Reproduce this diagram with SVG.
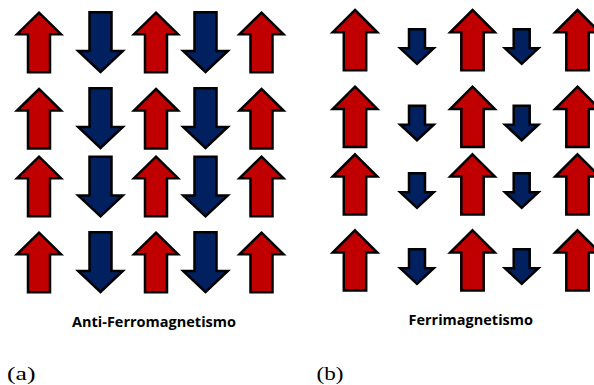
<svg xmlns="http://www.w3.org/2000/svg" xmlns:xlink="http://www.w3.org/1999/xlink" width="594" height="385" viewBox="0 0 594 385">
<style>
.up{fill:#C00000;stroke:#000;stroke-width:2.5;stroke-linejoin:miter}
.dn{fill:#002060;stroke:#000;stroke-width:2.5;stroke-linejoin:miter}
.lbl{font-family:"Open Sans","Liberation Sans",sans-serif;font-weight:bold;fill:#000}
.cap{font-family:"Liberation Serif","DejaVu Serif",serif;fill:#000}
</style>
<defs>
<path id="upL" class="up" d="M0,0 L22,21.5 L11,21.5 L11,59.5 L-11,59.5 L-11,21.5 L-22,21.5 Z"/>
<path id="dnL" class="dn" d="M-11,0 L11,0 L11,38.7 L22.3,38.7 L0,59.7 L-22.3,38.7 L-11,38.7 Z"/>
<path id="upR" class="up" d="M0,0 L22.3,22.3 L11.2,22.3 L11.2,60.3 L-11.2,60.3 L-11.2,22.3 L-22.3,22.3 Z"/>
<path id="dnR" class="dn" d="M-8,0 L8,0 L8,19 L16.7,19 L0,34.5 L-16.7,19 L-8,19 Z"/>
</defs>
<rect width="594" height="385" fill="#fff"/>
<g id="panel-a">
<g id="a-r1c1"><use xlink:href="#upL" x="39" y="12.7"/></g>
<g id="a-r1c2"><use xlink:href="#dnL" x="100.5" y="12.3"/></g>
<g id="a-r1c3"><use xlink:href="#upL" x="156" y="12.7"/></g>
<g id="a-r1c4"><use xlink:href="#dnL" x="205.5" y="12.3"/></g>
<g id="a-r1c5"><use xlink:href="#upL" x="261.5" y="12.7"/></g>
<g id="a-r2c1"><use xlink:href="#upL" x="39" y="89"/></g>
<g id="a-r2c2"><use xlink:href="#dnL" x="100.5" y="88.3"/></g>
<g id="a-r2c3"><use xlink:href="#upL" x="156" y="89"/></g>
<g id="a-r2c4"><use xlink:href="#dnL" x="205.5" y="88.3"/></g>
<g id="a-r2c5"><use xlink:href="#upL" x="261.5" y="89"/></g>
<g id="a-r3c1"><use xlink:href="#upL" x="39" y="156.7"/></g>
<g id="a-r3c2"><use xlink:href="#dnL" x="100.5" y="156.7"/></g>
<g id="a-r3c3"><use xlink:href="#upL" x="156" y="156.7"/></g>
<g id="a-r3c4"><use xlink:href="#dnL" x="205.5" y="156.7"/></g>
<g id="a-r3c5"><use xlink:href="#upL" x="261.5" y="156.7"/></g>
<g id="a-r4c1"><use xlink:href="#upL" x="39" y="232.7"/></g>
<g id="a-r4c2"><use xlink:href="#dnL" x="100.5" y="232.3"/></g>
<g id="a-r4c3"><use xlink:href="#upL" x="156" y="232.7"/></g>
<g id="a-r4c4"><use xlink:href="#dnL" x="205.5" y="232.3"/></g>
<g id="a-r4c5"><use xlink:href="#upL" x="261.5" y="232.7"/></g>
</g>
<g id="panel-b">
<g id="b-r1c1"><use xlink:href="#upR" x="355" y="10"/></g>
<g id="b-r1c2"><use xlink:href="#dnR" x="417" y="29.3"/></g>
<g id="b-r1c3"><use xlink:href="#upR" x="472.5" y="10"/></g>
<g id="b-r1c4"><use xlink:href="#dnR" x="521.7" y="29.3"/></g>
<g id="b-r1c5"><use xlink:href="#upR" x="577.5" y="10"/></g>
<g id="b-r2c1"><use xlink:href="#upR" x="355" y="86.7"/></g>
<g id="b-r2c2"><use xlink:href="#dnR" x="417" y="105.7"/></g>
<g id="b-r2c3"><use xlink:href="#upR" x="472.5" y="86.7"/></g>
<g id="b-r2c4"><use xlink:href="#dnR" x="521.7" y="105.7"/></g>
<g id="b-r2c5"><use xlink:href="#upR" x="577.5" y="86.7"/></g>
<g id="b-r3c1"><use xlink:href="#upR" x="355" y="154.3"/></g>
<g id="b-r3c2"><use xlink:href="#dnR" x="417" y="173.3"/></g>
<g id="b-r3c3"><use xlink:href="#upR" x="472.5" y="154.3"/></g>
<g id="b-r3c4"><use xlink:href="#dnR" x="521.7" y="173.3"/></g>
<g id="b-r3c5"><use xlink:href="#upR" x="577.5" y="154.3"/></g>
<g id="b-r4c1"><use xlink:href="#upR" x="355" y="230.3"/></g>
<g id="b-r4c2"><use xlink:href="#dnR" x="417" y="249.3"/></g>
<g id="b-r4c3"><use xlink:href="#upR" x="472.5" y="230.3"/></g>
<g id="b-r4c4"><use xlink:href="#dnR" x="521.7" y="249.3"/></g>
<g id="b-r4c5"><use xlink:href="#upR" x="577.5" y="230.3"/></g>
</g>
<g id="labels">
<text class="lbl" x="72" y="327" font-size="14" textLength="164" lengthAdjust="spacingAndGlyphs">Anti-Ferromagnetismo</text>
<text class="lbl" x="408.5" y="324.5" font-size="14" textLength="124.5" lengthAdjust="spacingAndGlyphs">Ferrimagnetismo</text>
<text class="cap" x="7" y="380" font-size="19" textLength="28.5" lengthAdjust="spacingAndGlyphs">(a)</text>
<text class="cap" x="316.5" y="380" font-size="19" textLength="27" lengthAdjust="spacingAndGlyphs">(b)</text>
</g>
</svg>
